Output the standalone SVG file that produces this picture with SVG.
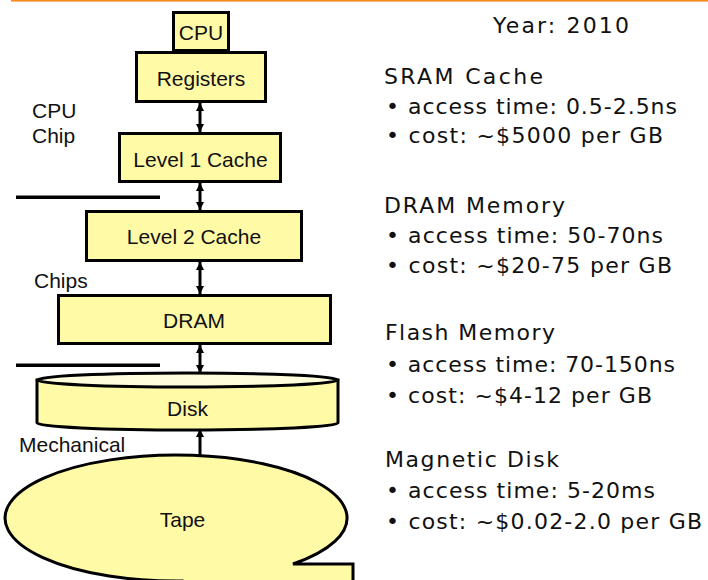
<svg xmlns="http://www.w3.org/2000/svg" width="708" height="580" viewBox="0 0 708 580">
<style>
.box{fill:#FFFAA6;stroke:#000;stroke-width:3}
.lbl{font-family:"Liberation Sans",Arial,sans-serif;font-size:21px;fill:#111}
.ctr{text-anchor:middle}
.note{font-family:"DejaVu Sans","Liberation Sans",sans-serif;font-size:22px;fill:#111}
.sep{stroke:#000;stroke-width:3.5}
.arr{stroke:#000;stroke-width:3;fill:none}
</style>
<defs>
<marker id="ah" markerUnits="userSpaceOnUse" markerWidth="10" markerHeight="10" refX="8" refY="4" orient="auto-start-reverse" viewBox="0 0 10 8">
<path d="M0,0 L8,4 L0,8 Z" fill="#000"/>
</marker>
</defs>
<rect x="11" y="0" width="697" height="1.6" fill="#F58A1F"/>
<g id="sep-lines">
<line class="sep" x1="16" y1="197.3" x2="160" y2="197.3"/>
<line class="sep" x1="16" y1="365.3" x2="160" y2="365.3"/>
</g>
<g id="connectors">
<line class="arr" x1="200" y1="103" x2="200" y2="132" marker-start="url(#ah)" marker-end="url(#ah)"/>
<line class="arr" x1="200" y1="183" x2="200" y2="210" marker-start="url(#ah)" marker-end="url(#ah)"/>
<line class="arr" x1="200" y1="262" x2="200" y2="294" marker-start="url(#ah)" marker-end="url(#ah)"/>
<line class="arr" x1="200" y1="345" x2="200" y2="373" marker-start="url(#ah)" marker-end="url(#ah)"/>
<line class="arr" x1="200" y1="429" x2="200" y2="456" marker-start="url(#ah)"/>
</g>
<g id="cpu">
<rect class="box" x="173.5" y="12.5" width="55" height="38"/>
<text class="lbl ctr" x="201" y="40">CPU</text>
</g>
<g id="registers">
<rect class="box" x="136.5" y="52.5" width="129" height="49"/>
<text class="lbl ctr" x="201" y="86">Registers</text>
</g>
<g id="l1">
<rect class="box" x="119.5" y="133.5" width="161" height="48"/>
<text class="lbl ctr" x="200.5" y="167">Level 1 Cache</text>
</g>
<g id="l2">
<rect class="box" x="86.5" y="211.5" width="215" height="49"/>
<text class="lbl ctr" x="194" y="244">Level 2 Cache</text>
</g>
<g id="dram">
<rect class="box" x="58.5" y="295.5" width="272" height="48"/>
<text class="lbl ctr" x="194" y="328">DRAM</text>
</g>
<g id="disk">
<path class="box" d="M37,380 L37,423 A150.5,7 0 0 0 338,423 L338,380 Z"/>
<ellipse cx="187.5" cy="380" rx="150.5" ry="7" fill="#FFFDDC" stroke="#000" stroke-width="3"/>
<text class="lbl ctr" x="187.5" y="416">Disk</text>
</g>
<g id="tape">
<path class="box" d="M293,564 L353,564 L353,592 L182,592 L182,581 A171,63 0 1 1 293,564 Z"/>
<text class="lbl ctr" x="182.5" y="527">Tape</text>
</g>
<g id="side-labels">
<text class="lbl" x="32" y="118">CPU</text>
<text class="lbl" x="32" y="143">Chip</text>
<text class="lbl" x="34" y="288">Chips</text>
<text class="lbl" x="19" y="452">Mechanical</text>
</g>
<g id="notes">
<text class="note" x="493" y="33" textLength="136">Year: 2010</text>
<text class="note" x="384" y="84" textLength="159">SRAM Cache</text>
<text class="note" x="386" y="114" textLength="291">• access time: 0.5-2.5ns</text>
<text class="note" x="386" y="143" textLength="277">• cost: ~$5000 per GB</text>
<text class="note" x="384" y="213" textLength="181">DRAM Memory</text>
<text class="note" x="386" y="243" textLength="277">• access time: 50-70ns</text>
<text class="note" x="386" y="273" textLength="286">• cost: ~$20-75 per GB</text>
<text class="note" x="385" y="340" textLength="170">Flash Memory</text>
<text class="note" x="386" y="372" textLength="289">• access time: 70-150ns</text>
<text class="note" x="386" y="403" textLength="266">• cost: ~$4-12 per GB</text>
<text class="note" x="385" y="467" textLength="174">Magnetic Disk</text>
<text class="note" x="386" y="498" textLength="269">• access time: 5-20ms</text>
<text class="note" x="386" y="529" textLength="316">• cost: ~$0.02-2.0 per GB</text>
</g>
</svg>
